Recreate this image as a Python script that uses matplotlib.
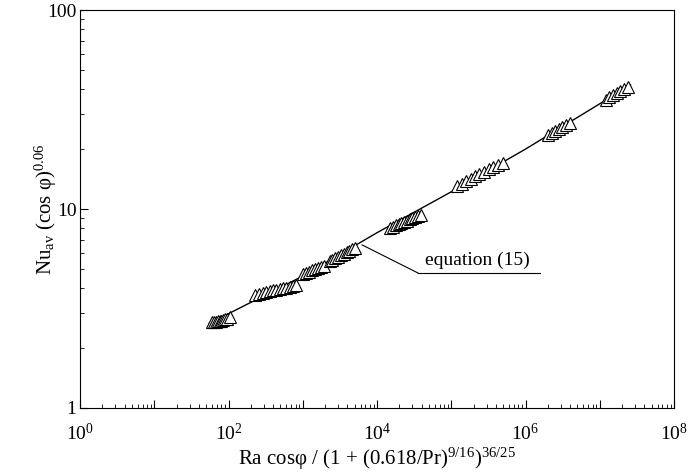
import math
import matplotlib
matplotlib.use("Agg")
import matplotlib.pyplot as plt
from matplotlib.ticker import LogLocator, FuncFormatter, NullFormatter

plt.rcParams['font.family'] = ['Liberation Serif', 'DejaVu Serif']
plt.rcParams['mathtext.fontset'] = 'custom'
plt.rcParams['mathtext.rm'] = 'Liberation Serif'
plt.rcParams['mathtext.it'] = 'Liberation Serif:italic'

# measured data (triangles)
x_c1 = [60, 64, 68, 72, 76, 80, 85, 90, 96, 104]
y_c1 = [2.70, 2.71, 2.72, 2.73, 2.74, 2.75, 2.77, 2.79, 2.81, 2.85]
x_c2 = [230, 260, 290, 320, 360, 400, 440, 490, 540, 600, 670, 740, 800]
y_c2 = [3.70, 3.74, 3.78, 3.82, 3.86, 3.90, 3.93, 3.96, 3.99, 4.03, 4.07, 4.10, 4.13]
x_c3 = [1000, 1100, 1200, 1320, 1450, 1600, 1750, 1950]
y_c3 = [4.70, 4.77, 4.84, 4.91, 4.98, 5.06, 5.13, 5.20]
x_c4 = [2300, 2500, 2750, 3000, 3250, 3550, 3900, 4250, 4650, 5100]
y_c4 = [5.45, 5.55, 5.65, 5.76, 5.86, 5.96, 6.07, 6.17, 6.27, 6.36]
x_c5 = [15000, 16500, 18000, 19500, 21000, 23000, 25000, 27500, 30000, 33000, 36000, 39000]
y_c5 = [8.0, 8.15, 8.3, 8.4, 8.5, 8.62, 8.74, 8.86, 8.98, 9.1, 9.23, 9.35]
x_c6 = [120000, 140000, 160000, 185000, 210000, 240000, 280000, 320000, 370000, 430000, 500000]
y_c6 = [13.0, 13.4, 13.8, 14.2, 14.6, 15.0, 15.4, 15.8, 16.2, 16.7, 17.1]
x_c7 = [2.0e6, 2.25e6, 2.5e6, 2.8e6, 3.1e6, 3.5e6, 4.0e6]
y_c7 = [23.5, 24.1, 24.7, 25.3, 25.9, 26.4, 27.0]
x_c8 = [1.2e7, 1.35e7, 1.5e7, 1.7e7, 1.9e7, 2.15e7, 2.4e7]
y_c8 = [35.5, 36.5, 37.4, 38.3, 39.1, 40.0, 41.0]

# equation (15) curve
line_x = [55, 1e3, 1e4, 1e5, 1e6, 2.6e7]
line_y = [2.66, 4.6, 7.6, 12.2, 20.0, 42.0]

fig = plt.figure(figsize=(6.92, 4.75), dpi=100)
ax = fig.add_axes([80/692, 67/475, 594/692, 398/475])

ax.plot(line_x, line_y, color='black', lw=1.0, zorder=2)
for xs, ys in [(x_c1, y_c1), (x_c2, y_c2), (x_c3, y_c3), (x_c4, y_c4),
               (x_c5, y_c5), (x_c6, y_c6), (x_c7, y_c7), (x_c8, y_c8)]:
    ax.plot(xs, ys, linestyle='none', marker='^', markersize=8,
            markerfacecolor='white', markeredgecolor='black',
            markeredgewidth=0.8, zorder=3)

ax.set_xscale('log')
ax.set_yscale('log')
ax.set_xlim(1, 1e8)
ax.set_ylim(1, 100)

ax.xaxis.set_major_locator(LogLocator(base=10, numticks=20))
ax.xaxis.set_minor_locator(LogLocator(base=10, subs=range(2, 10), numticks=100))
def xfmt(v, pos):
    e = int(round(math.log10(v)))
    return r'$10^{%d}$' % e if e % 2 == 0 else ''
ax.xaxis.set_major_formatter(FuncFormatter(xfmt))
ax.xaxis.set_minor_formatter(NullFormatter())
ax.yaxis.set_major_formatter(FuncFormatter(lambda v, p: '%g' % v))
ax.yaxis.set_minor_formatter(NullFormatter())

ax.tick_params(which='both', direction='in', labelsize=14)
ax.tick_params(which='major', length=6, width=0.8)
ax.tick_params(which='minor', length=3, width=0.6)
ax.tick_params(axis='x', which='major', pad=11)
ax.tick_params(axis='y', which='major', pad=2.5)
for s in ax.spines.values():
    s.set_linewidth(0.8)

ax.set_xlabel(r'Ra cosφ / (1 + (0.618/Pr)$^{9/16}$)$^{36/25}$', fontsize=15, labelpad=1)
ax.set_ylabel(r'Nu$_{\mathrm{av}}$ (cos φ)$^{0.06}$', fontsize=15)
ax.yaxis.set_label_coords(-0.036, 0.5)

# annotation
ax.plot([6300, 3.56e4], [6.6, 4.77], color='black', lw=0.8)
ax.plot([3.56e4, 1.57e6], [4.77, 4.77], color='black', lw=0.8)
ax.text(4.4e4, 5.0, 'equation (15)', fontsize=14, ha='left', va='bottom')

fig.savefig('out.png', dpi=100)
